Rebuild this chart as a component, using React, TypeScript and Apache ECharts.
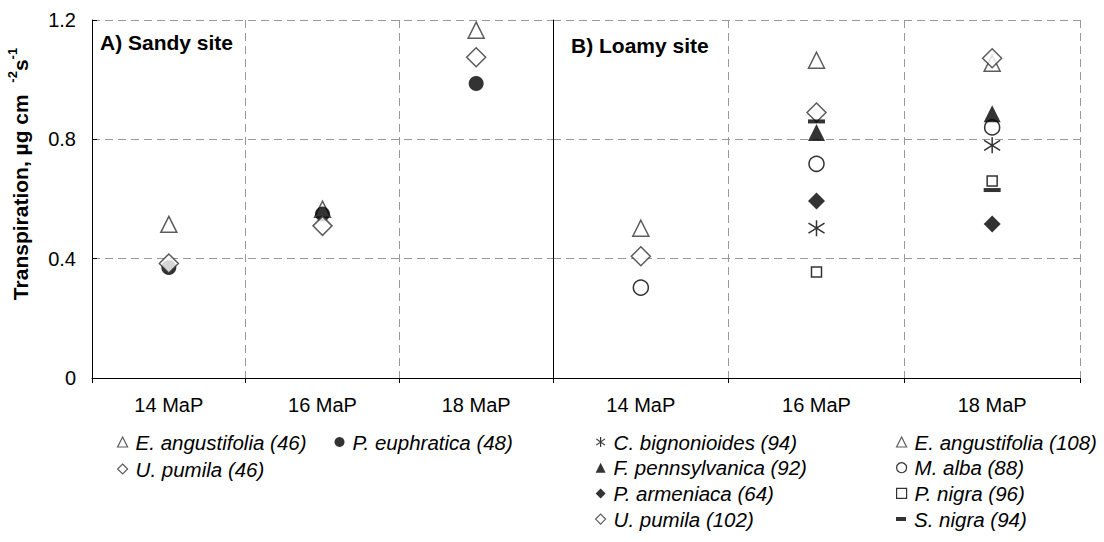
import React, { useEffect, useRef } from 'react';
import * as echarts from 'echarts';

const categories = ['14 MaP', '16 MaP', '18 MaP'];
const yMin = 0;
const yMax = 1.2;
const yStep = 0.4;

// A) Sandy site
const sandyEAngustifolia = [0.515, 0.566, 1.166];
const sandyPEuphratica = [0.37, 0.55, 0.987];
const sandyUPumila = [0.384, 0.51, 1.075];

// B) Loamy site
const loamyEAngustifolia = [0.502, 1.065, 1.055];
const loamyUPumila = [0.408, 0.89, 1.072];
const loamyMAlba = [0.303, 0.718, 0.84];
const loamyCBignonioides = [null, 0.502, 0.78];
const loamyFPennsylvanica = [null, 0.823, 0.886];
const loamyPArmeniaca = [null, 0.593, 0.516];
const loamyPNigra = [null, 0.355, 0.66];
const loamySNigra = [null, 0.86, 0.63];

const N_EA46 = 'E. angustifolia (46)';
const N_PE48 = 'P. euphratica (48)';
const N_UP46 = 'U. pumila (46)';
const N_CB94 = 'C. bignonioides (94)';
const N_FP92 = 'F. pennsylvanica (92)';
const N_PA64 = 'P. armeniaca (64)';
const N_UP102 = 'U. pumila (102)';
const N_EA108 = 'E. angustifolia (108)';
const N_MA88 = 'M. alba (88)';
const N_PN96 = 'P. nigra (96)';
const N_SN94 = 'S. nigra (94)';

const FONT = '"Liberation Sans", Arial, sans-serif';
const ASTERISK = 'path://M8 0 L8 16 M1 3 L15 13 M1 13 L15 3';

const openStyle = { color: '#fff', borderColor: '#333', borderWidth: 1.5 };
const filledStyle = { color: '#000' };

export default function App() {
  const ref = useRef<HTMLDivElement>(null);
  useEffect(() => {
    if (!ref.current) return;
    const chart = echarts.init(ref.current, null, { renderer: 'svg' });

    const xAxis = [0, 1].map((i) => ({
      type: 'category',
      gridIndex: i,
      data: categories,
      boundaryGap: true,
      axisLine: { show: true, lineStyle: { color: '#000', width: 1 } },
      axisTick: { show: true, length: 5, lineStyle: { color: '#000' } },
      axisLabel: { color: '#000', fontSize: 20, fontFamily: FONT, margin: 17 },
      splitLine: { show: true, showMinLine: false, lineStyle: { color: '#999', type: [8, 5], width: 1 } },
    }));

    const yBase = {
      type: 'value',
      min: yMin,
      max: yMax,
      interval: yStep,
      axisLine: { show: true, lineStyle: { color: '#000', width: 1 } },
      splitLine: { show: true, lineStyle: { color: '#999', type: [8, 5], width: 1 } },
    };

    const yAxis = [
      {
        ...yBase,
        gridIndex: 0,
        axisTick: { show: true, inside: true, length: 5, lineStyle: { color: '#000' } },
        axisLabel: {
          color: '#000',
          fontSize: 20,
          fontFamily: FONT,
          margin: 16,
          formatter: (v: number) => (v === 0 ? '0' : v.toFixed(1)),
        },
        name: '{t|Transpiration, µg cm  }{s|-2}{t|s}{s|-1}',
        nameLocation: 'middle',
        nameRotate: 90,
        nameGap: 61,
        nameTextStyle: {
          padding: [0, 0, 0, 50],
          rich: {
            t: { fontSize: 21, fontWeight: 'bold', fontFamily: FONT, color: '#000', lineHeight: 25, verticalAlign: 'bottom' },
            s: { fontSize: 13, fontWeight: 'bold', fontFamily: FONT, color: '#000', lineHeight: 25, verticalAlign: 'top' },
          },
        },
      },
      {
        ...yBase,
        gridIndex: 1,
        axisTick: { show: false },
        axisLabel: { show: false },
      },
    ];

    const sc = (name: string, idx: number, data: (number | null)[], symbol: string, size: any, style: any) => ({
      type: 'scatter',
      name,
      xAxisIndex: idx,
      yAxisIndex: idx,
      data,
      symbol,
      symbolSize: size,
      itemStyle: style,
      emphasis: { disabled: true },
    });

    const series = [
      sc(N_EA46, 0, sandyEAngustifolia, 'triangle', 16, openStyle),
      sc(N_PE48, 0, sandyPEuphratica, 'circle', 15, filledStyle),
      sc(N_UP46, 0, sandyUPumila, 'diamond', 19, openStyle),

      sc(N_EA108, 1, loamyEAngustifolia, 'triangle', 16, openStyle),
      sc(N_UP102, 1, loamyUPumila, 'diamond', 19, openStyle),
      sc(N_MA88, 1, loamyMAlba, 'circle', 15, { color: '#fff', borderColor: '#000', borderWidth: 1.5 }),
      sc(N_PN96, 1, loamyPNigra, 'rect', 10, { color: '#fff', borderColor: '#000', borderWidth: 1.5 }),
      sc(N_SN94, 1, loamySNigra, 'rect', [17, 4], filledStyle),
      sc(N_FP92, 1, loamyFPennsylvanica, 'triangle', 17, filledStyle),
      sc(N_PA64, 1, loamyPArmeniaca, 'diamond', 17, filledStyle),
      sc(N_CB94, 1, loamyCBignonioides, ASTERISK, 16, { color: '#000', borderColor: '#000', borderWidth: 1.5 }),
    ];

    const legendCommon = {
      itemWidth: 10,
      itemHeight: 10,
      selectedMode: false,
      itemStyle: { borderWidth: 1.2 },
      textStyle: {
        fontFamily: FONT,
        fontSize: 20.5,
        fontStyle: 'italic',
        color: '#000',
        lineHeight: 20,
        padding: [0, 0, 0, 3],
      },
    };

    const option = {
      animation: false,
      backgroundColor: '#fff',
      grid: [
        { left: 92, top: 20, width: 461, height: 358 },
        { left: 553, top: 20, width: 527, height: 358 },
      ],
      xAxis,
      yAxis,
      series,
      legend: [
        { ...legendCommon, left: 112, top: 427, orient: 'horizontal', itemGap: 28, data: [N_EA46, N_PE48] },
        { ...legendCommon, left: 112, top: 454, orient: 'horizontal', data: [N_UP46] },
        { ...legendCommon, left: 590, top: 427, orient: 'vertical', itemGap: 5.7, data: [N_CB94, N_FP92, N_PA64, N_UP102] },
        { ...legendCommon, left: 891, top: 427, orient: 'vertical', itemGap: 5.7, data: [N_EA108, N_MA88, N_PN96] },
        { ...legendCommon, left: 891, top: 504, itemHeight: 4, orient: 'vertical', data: [N_SN94] },
      ],
      graphic: [
        { type: 'text', left: 100, top: 32, style: { text: 'A) Sandy site', font: `bold 21px ${FONT}`, fill: '#000' } },
        { type: 'text', left: 571, top: 35, style: { text: 'B) Loamy site', font: `bold 21px ${FONT}`, fill: '#000' } },
      ],
    };

    chart.setOption(option as any);
    return () => chart.dispose();
  }, []);

  return <div ref={ref} style={{ position: 'absolute', left: 0, top: 0, width: 1104, height: 542 }} />;
}
